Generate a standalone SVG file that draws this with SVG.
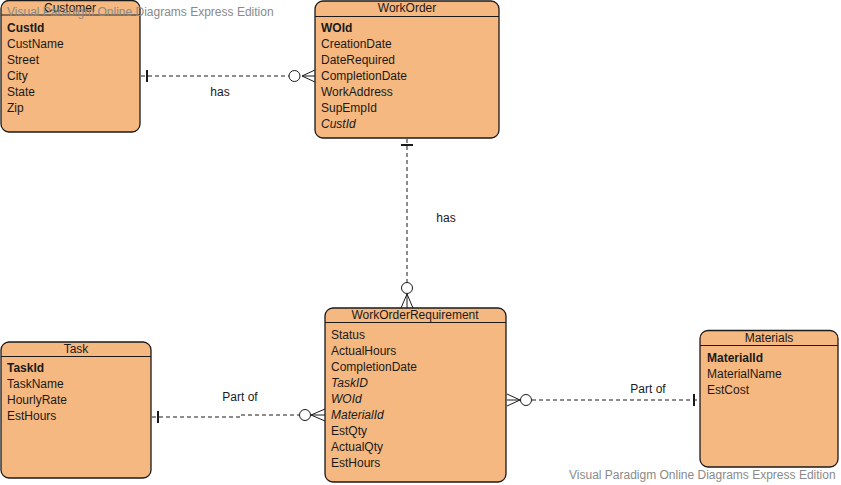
<svg xmlns="http://www.w3.org/2000/svg" width="841" height="485" viewBox="0 0 841 485">
<style>
.box{fill:#f5b880;stroke:#1a1a1a;stroke-width:1.3}
.hl{stroke:#1a1a1a;stroke-width:1.2}
text{font-family:"Liberation Sans",Arial,sans-serif;font-size:12px;fill:#1a1a1a}
.t{text-anchor:middle}
.b{font-weight:bold}
.i{font-style:italic}
.c{fill:none;stroke:#1a1a1a;stroke-width:1;stroke-dasharray:4,3}
.s{fill:none;stroke:#1a1a1a;stroke-width:1}
.sb{fill:none;stroke:#1a1a1a;stroke-width:2}
.ci{fill:#fff;stroke:#1a1a1a;stroke-width:1}
.wm{fill:#8a8a8a;font-size:12px}
.lbl{fill:#1a1a1a}
</style>
<rect width="841" height="485" fill="#fff"/>
<g id="connectors">
  <path class="c" d="M141,76 H289"/>
  <path class="sb" d="M147,70 V82"/>
  <circle class="ci" cx="294.5" cy="76" r="5.5"/>
  <path class="s" d="M315,70 L302,76 L315,82 M302,76 H315"/>
  <text class="lbl" x="220" y="96" text-anchor="middle">has</text>
  <path class="c" d="M407,139 V282"/>
  <path class="sb" d="M401,145 H413"/>
  <circle class="ci" cx="407" cy="288" r="5.5"/>
  <path class="s" d="M401,308 L407,294 L413,308 M407,294 V308"/>
  <text class="lbl" x="446" y="222" text-anchor="middle">has</text>
  <path class="c" d="M152,417 H240 V415 H299"/>
  <path class="sb" d="M158,411 V423"/>
  <circle class="ci" cx="305" cy="415" r="5.5"/>
  <path class="s" d="M325,409 L311,415 L325,421 M311,415 H325"/>
  <text class="lbl" x="240" y="401" text-anchor="middle">Part of</text>
  <path class="c" d="M532,400 H699"/>
  <path class="sb" d="M694,394 V406"/>
  <circle class="ci" cx="526" cy="400" r="5.5"/>
  <path class="s" d="M507,394 L520,400 L507,406 M507,400 H520"/>
  <text class="lbl" x="648" y="393" text-anchor="middle">Part of</text>
</g>
<g id="customer">
  <rect class="box" x="1" y="0.5" width="139" height="131.5" rx="8"/>
  <line class="hl" x1="1" y1="15" x2="140" y2="15"/>
  <text class="t" x="70" y="12">Customer</text>
  <text class="b" x="7" y="32">CustId</text>
  <text x="7" y="48">CustName</text>
  <text x="7" y="64">Street</text>
  <text x="7" y="80">City</text>
  <text x="7" y="96">State</text>
  <text x="7" y="112">Zip</text>
</g>
<g id="workorder">
  <rect class="box" x="315" y="1" width="184" height="137" rx="8"/>
  <line class="hl" x1="315" y1="16.5" x2="499" y2="16.5"/>
  <text class="t" x="407" y="12">WorkOrder</text>
  <text class="b" x="321" y="32">WOId</text>
  <text x="321" y="48">CreationDate</text>
  <text x="321" y="64">DateRequired</text>
  <text x="321" y="80">CompletionDate</text>
  <text x="321" y="96">WorkAddress</text>
  <text x="321" y="112">SupEmpId</text>
  <text class="i" x="321" y="128">CustId</text>
</g>
<g id="workorderrequirement">
  <rect class="box" x="325" y="308" width="181" height="174" rx="8"/>
  <line class="hl" x1="325" y1="322.5" x2="506" y2="322.5"/>
  <text class="t" x="415" y="319">WorkOrderRequirement</text>
  <text x="331" y="339">Status</text>
  <text x="331" y="355">ActualHours</text>
  <text x="331" y="371">CompletionDate</text>
  <text class="i" x="331" y="387">TaskID</text>
  <text class="i" x="331" y="403">WOId</text>
  <text class="i" x="331" y="419">MaterialId</text>
  <text x="331" y="435">EstQty</text>
  <text x="331" y="451">ActualQty</text>
  <text x="331" y="467">EstHours</text>
</g>
<g id="task">
  <rect class="box" x="1" y="342" width="150" height="136" rx="8"/>
  <line class="hl" x1="1" y1="356.5" x2="151" y2="356.5"/>
  <text class="t" x="76" y="353">Task</text>
  <text class="b" x="7" y="372">TaskId</text>
  <text x="7" y="388">TaskName</text>
  <text x="7" y="404">HourlyRate</text>
  <text x="7" y="420">EstHours</text>
</g>
<g id="materials">
  <rect class="box" x="700" y="330.5" width="138" height="136.5" rx="8"/>
  <line class="hl" x1="700" y1="345.5" x2="838" y2="345.5"/>
  <text class="t" x="769" y="342">Materials</text>
  <text class="b" x="707" y="362">MaterialId</text>
  <text x="707" y="378">MaterialName</text>
  <text x="707" y="394">EstCost</text>
</g>
<text class="wm" x="7" y="16">Visual Paradigm Online Diagrams Express Edition</text>
<text class="wm" x="569" y="479">Visual Paradigm Online Diagrams Express Edition</text>
</svg>
